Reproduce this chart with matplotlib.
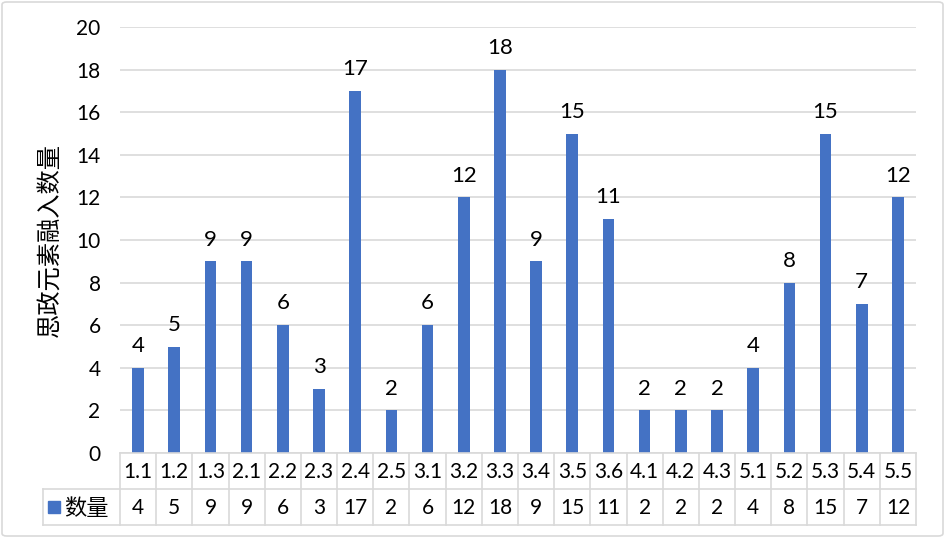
import matplotlib
matplotlib.use("Agg")
import matplotlib.pyplot as plt
from matplotlib.patches import FancyBboxPatch, Rectangle
import numpy as np

plt.rcParams['font.family'] = ['Lato', 'Noto Sans CJK SC', 'DejaVu Sans']

cats = ['1.1', '1.2', '1.3', '2.1', '2.2', '2.3', '2.4', '2.5', '3.1', '3.2', '3.3',
        '3.4', '3.5', '3.6', '4.1', '4.2', '4.3', '5.1', '5.2', '5.3', '5.4', '5.5']
counts = [4, 5, 9, 9, 6, 3, 17, 2, 6, 12, 18, 9, 15, 11, 2, 2, 2, 4, 8, 15, 7, 12]
series_name = '数量'
ylabel = '思政元素融入数量'

W, H = 945, 538
bar_color = '#4472C4'
grid_color = '#D9D9D9'
cjk = ['Noto Sans CJK SC', 'DejaVu Sans']

fig = plt.figure(figsize=(W / 100, H / 100), dpi=100)

# plot area in pixels
x0, x1 = 120, 916
y_top, y_bot = 27, 453
ax = fig.add_axes([x0 / W, 1 - y_bot / H, (x1 - x0) / W, (y_bot - y_top) / H])

x = np.arange(len(cats))
ax.bar(x, counts, width=0.32, color=bar_color, zorder=3)
for xi, v in zip(x, counts):
    ax.text(xi, v + 0.55, str(v), ha='center', va='bottom', fontsize=16, color='#000000')

ax.set_xlim(-0.5, len(cats) - 0.5)
ax.set_ylim(0, 20)
ax.set_yticks(range(0, 21, 2))
ax.tick_params(axis='y', length=0, labelsize=15, pad=14, colors='#000000')
ax.set_xticks([])
ax.grid(axis='y', color=grid_color, linewidth=1.2, zorder=0)
for s in ax.spines.values():
    s.set_visible(False)
ax.set_ylabel(ylabel, fontsize=17.5, labelpad=9, family=cjk)

# data table below the plot area
tx0 = 43
row_h = 36
tbl = fig.add_axes([tx0 / W, 1 - (y_bot + 2 * row_h) / H, (x1 - tx0) / W, 2 * row_h / H])
cw = (x1 - x0) / len(cats)
left = -0.5 - (x0 - tx0) / cw
tbl.set_xlim(left, len(cats) - 0.5)
tbl.set_ylim(0, 2)
tbl.axis('off')
lw = 1.2
tbl.plot([-0.5, len(cats) - 0.5], [2, 2], color=grid_color, lw=lw, clip_on=False)
tbl.plot([left, len(cats) - 0.5], [1, 1], color=grid_color, lw=lw, clip_on=False)
tbl.plot([left, len(cats) - 0.5], [0, 0], color=grid_color, lw=lw, clip_on=False)
tbl.plot([left, left], [0, 1], color=grid_color, lw=lw, clip_on=False)
for i in range(len(cats) + 1):
    tbl.plot([i - 0.5, i - 0.5], [0, 2], color=grid_color, lw=lw, clip_on=False)
for xi, c, v in zip(x, cats, counts):
    tbl.text(xi, 1.47, c, ha='center', va='center', fontsize=15)
    tbl.text(xi, 0.47, str(v), ha='center', va='center', fontsize=15)
# legend key
ksz = 12 / cw
tbl.add_patch(Rectangle((left + 0.14, 0.5 - 12 / row_h / 2), ksz, 12 / row_h,
                        color=bar_color, clip_on=False))
tbl.text(left + 0.14 + ksz + 0.12, 0.47, series_name, ha='left', va='center', fontsize=16,
         family=cjk)

# chart border
fig.patches.append(FancyBboxPatch((2 / W, 2 / H), (W - 4) / W, (H - 4) / H,
                                  boxstyle='round,pad=0,rounding_size=0.005',
                                  transform=fig.transFigure, fill=False,
                                  edgecolor='#D9D9D9', linewidth=1.2))

fig.savefig('out.png', dpi=100)
